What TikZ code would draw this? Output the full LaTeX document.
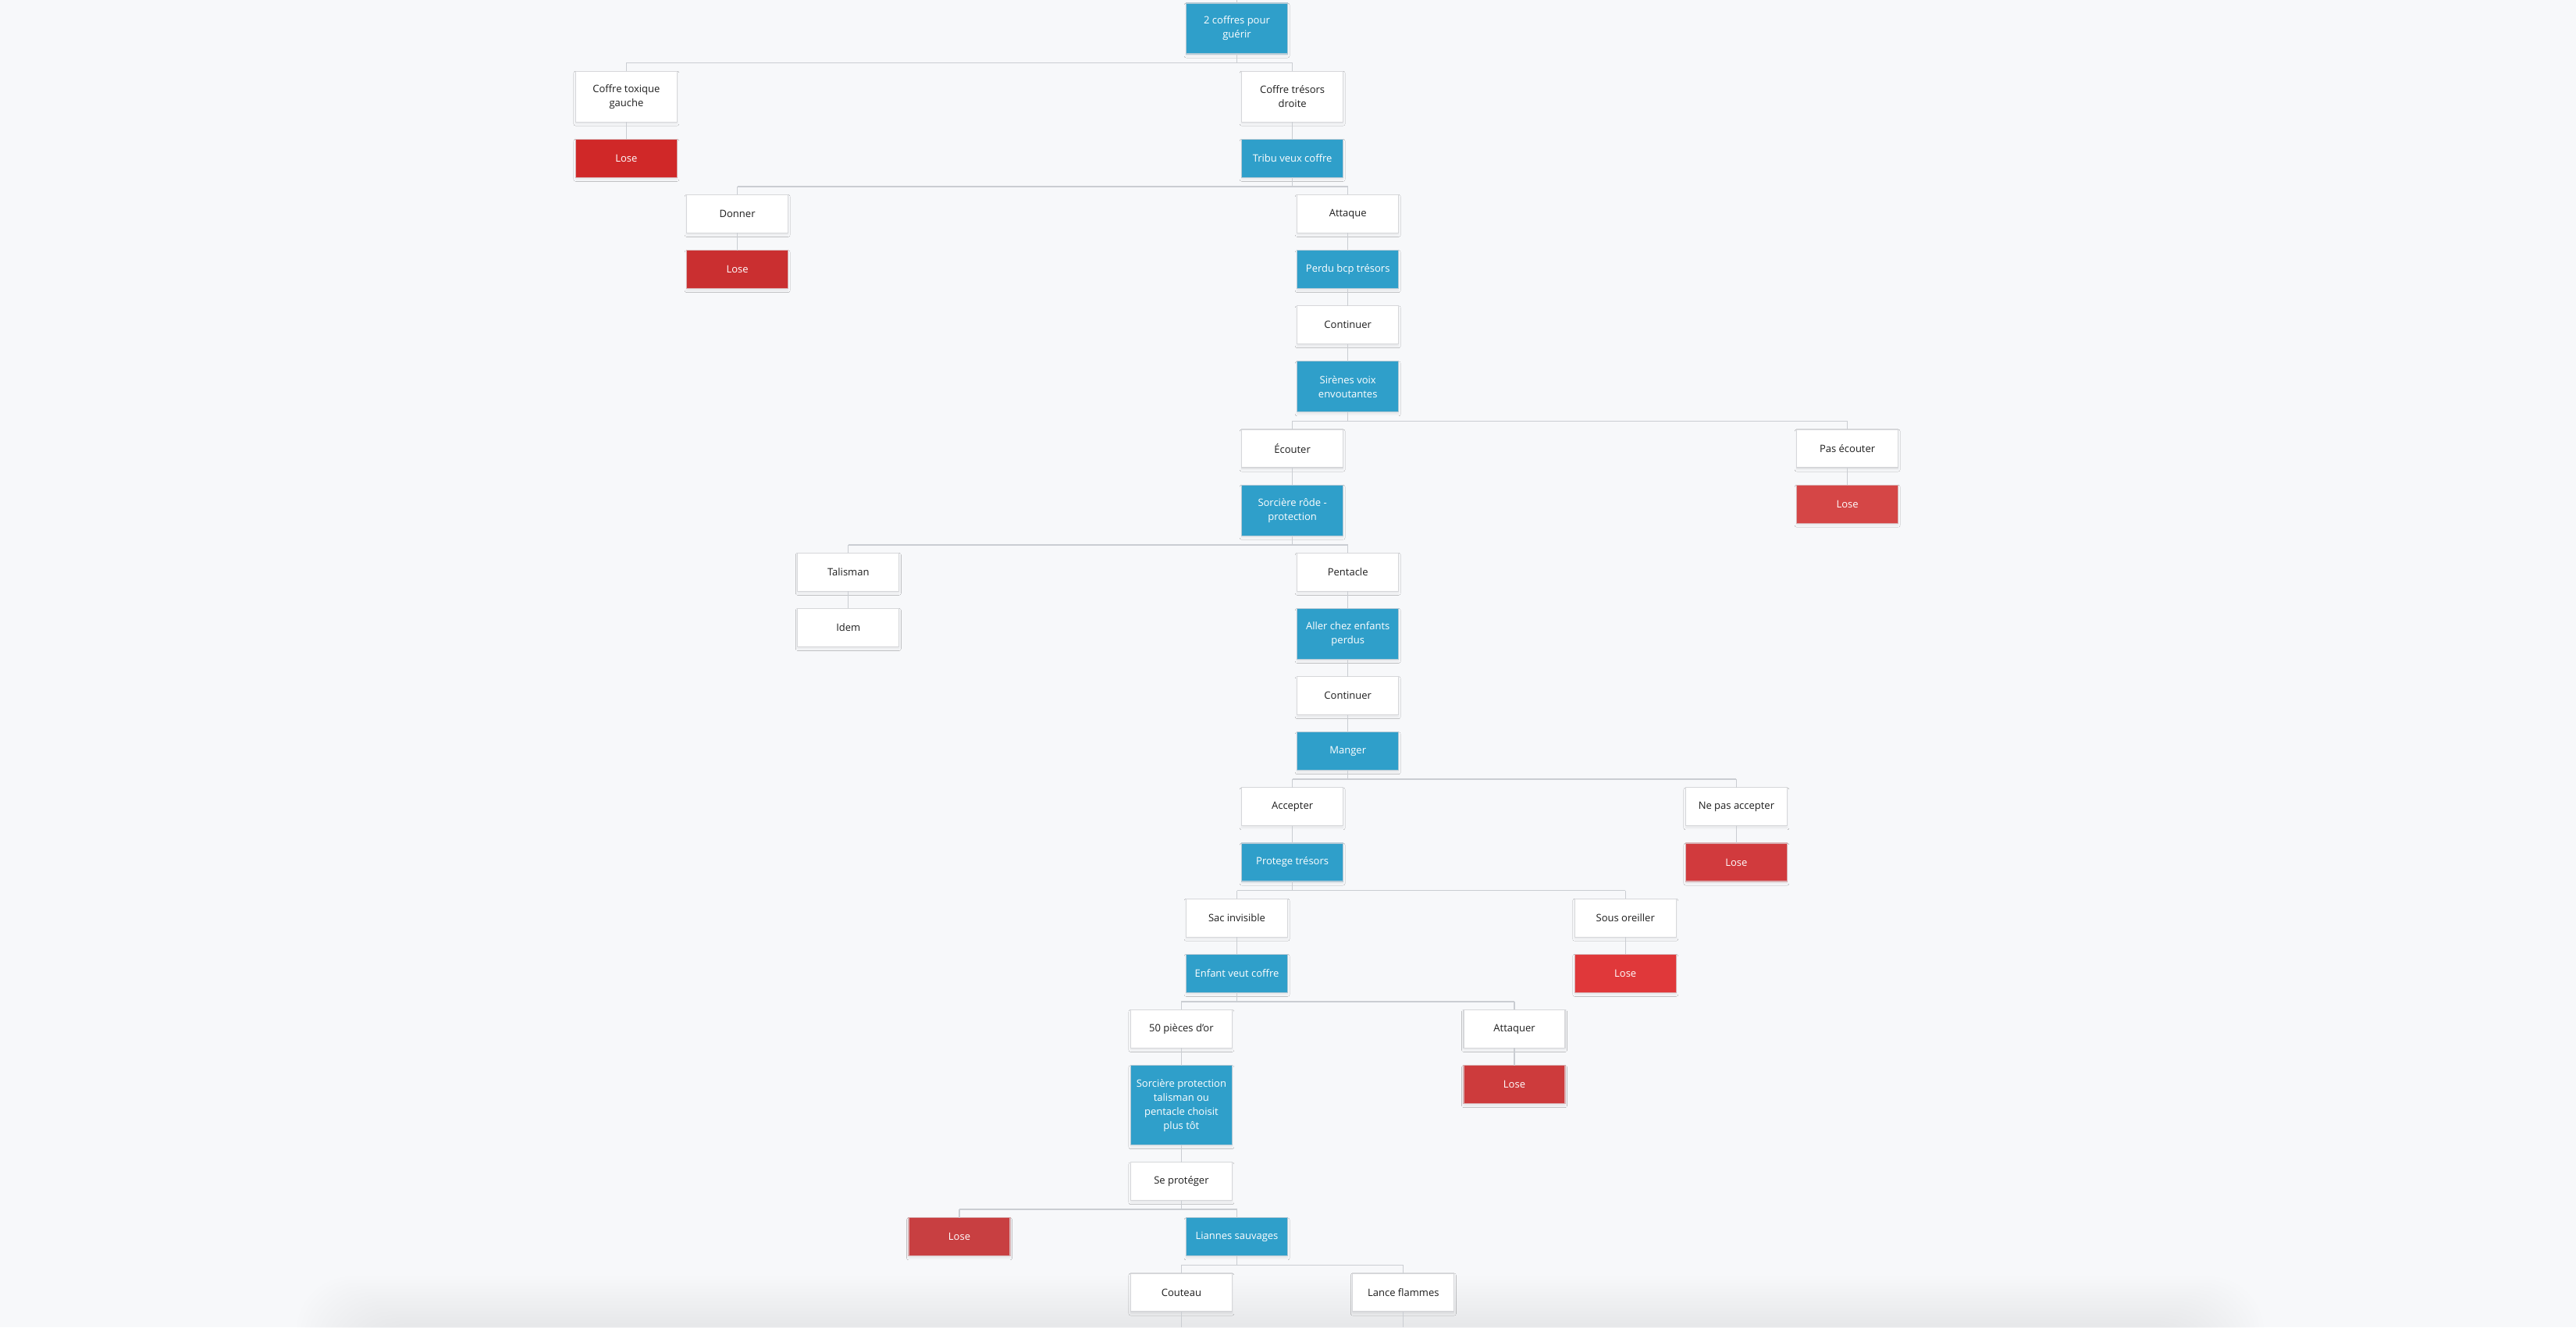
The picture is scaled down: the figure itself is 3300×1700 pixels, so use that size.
\documentclass[tikz,border=0pt]{standalone}
\usepackage{fontspec}
\setmainfont{Open Sans}
\usetikzlibrary{shadows.blur}
\definecolor{bgc}{HTML}{F7F8FA}
\definecolor{bluec}{HTML}{2F9FCA}
\definecolor{blueb}{HTML}{B3C9D5}
\definecolor{whiteb}{HTML}{D6D7DA}
\definecolor{redb}{HTML}{D8AEB0}
\definecolor{txt}{HTML}{1E1E1E}
\definecolor{linec}{HTML}{CACDD2}
\definecolor{shadc}{HTML}{4A5066}
\definecolor{redA}{HTML}{D02828}
\definecolor{redB}{HTML}{CA2F30}
\definecolor{redC}{HTML}{D54646}
\definecolor{redD}{HTML}{D13A3D}
\definecolor{redE}{HTML}{E0383A}
\definecolor{redF}{HTML}{CD3B3C}
\definecolor{redG}{HTML}{C83F41}
\tikzset{
  box/.style={draw, line width=1.1pt, minimum width=130pt, minimum height=49pt,
    inner sep=0pt, outer sep=0pt, align=center, anchor=north,
    font=\fontsize{13}{18}\selectfont,
    blur shadow={shadow xshift=0pt, shadow yshift=-2.5pt, shadow blur radius=2.5pt, shadow opacity=7, shadow blur steps=5}},
  h2/.style={minimum height=65pt},
  h4/.style={minimum height=102pt},
  wbox/.style={box, fill=white, draw=whiteb, text=txt},
  bbox/.style={box, fill=bluec, draw=blueb, text=white},
  rbox/.style={box, fill=#1, draw=redb, text=white},
  conn/.style={draw=linec, line width=1.2pt},
  bus/.style={draw=linec, line width=1.7pt},
}
\newcommand{\lnk}[2]{\draw[conn] (#1.south) -- (#2.north);}
\newcommand{\frk}[3]{\draw[conn] (#1.south) -- ++(0,10.6);
  \draw[conn] (#2.north) -- ++(0,-10.6);
  \draw[conn] (#3.north) -- ++(0,-10.6);
  \draw[bus] ([yshift=10.6pt]#2.north) -- ([yshift=10.6pt]#3.north);}
\begin{document}
\begin{tikzpicture}[x=1pt, y=-1pt]
\useasboundingbox (0,0) rectangle (3300,1700);
\fill[bgc] (0,0) rectangle (3300,1700);
% bottom soft shadow
\begin{scope}
\clip (0,0) rectangle (3300,1700);
\foreach \i in {0,...,15}{
  \fill[shadc, opacity=0.0036, rounded corners=70pt]
    ({380+5*\i},{1635+4*\i}) rectangle ({2900-5*\i},1790);
}
\end{scope}
% column x centres: 1584.5 + 71.1 k
\def\cx#1{\fpeval{1584.5+71.1*(#1)}}
\node[bbox,h2] (root) at (\cx{0},4) {2 coffres pour\\guérir};
\node[wbox,h2] (ct) at (\cx{-11},91.1) {Coffre toxique\\gauche};
\node[wbox,h2] (cd) at (\cx{1},91.1) {Coffre trésors\\droite};
\node[rbox=redA] (l1) at (\cx{-11},178.3) {Lose};
\node[bbox] (tribu) at (\cx{1},178.3) {Tribu veux coffre};
\node[wbox] (donner) at (\cx{-9},249.4) {Donner};
\node[wbox] (attaque) at (\cx{2},249.4) {Attaque};
\node[rbox=redB] (l2) at (\cx{-9},320.6) {Lose};
\node[bbox] (perdu) at (\cx{2},320.6) {Perdu bcp trésors};
\node[wbox] (cont1) at (\cx{2},391.7) {Continuer};
\node[bbox,h2] (sirenes) at (\cx{2},462.9) {Sirènes voix\\envoutantes};
\node[wbox] (ecouter) at (\cx{1},550.0) {Écouter};
\node[wbox] (pasec) at (\cx{11},550.0) {Pas écouter};
\node[bbox,h2] (sorc1) at (\cx{1},621.2) {Sorcière rôde -\\protection};
\node[rbox=redC] (l3) at (\cx{11},621.2) {Lose};
\node[wbox] (talisman) at (\cx{-7},708.3) {Talisman};
\node[wbox] (pentacle) at (\cx{2},708.3) {Pentacle};
\node[wbox] (idem) at (\cx{-7},779.4) {Idem};
\node[bbox,h2] (aller) at (\cx{2},779.4) {Aller chez enfants\\perdus};
\node[wbox] (cont2) at (\cx{2},866.6) {Continuer};
\node[bbox] (manger) at (\cx{2},937.7) {Manger};
\node[wbox] (accepter) at (\cx{1},1008.9) {Accepter};
\node[wbox] (nepas) at (\cx{9},1008.9) {Ne pas accepter};
\node[bbox] (protege) at (\cx{1},1080.0) {Protege trésors};
\node[rbox=redD] (l4) at (\cx{9},1080.0) {Lose};
\node[wbox] (sac) at (\cx{0},1151.2) {Sac invisible};
\node[wbox] (sous) at (\cx{7},1151.2) {Sous oreiller};
\node[bbox] (enfant) at (\cx{0},1222.3) {Enfant veut coffre};
\node[rbox=redE] (l5) at (\cx{7},1222.3) {Lose};
\node[wbox] (pieces) at (\cx{-1},1293.4) {50 pièces d'or};
\node[wbox] (attaquer) at (\cx{5},1293.4) {Attaquer};
\node[bbox,h4] (sorc2) at (\cx{-1},1364.6) {Sorcière protection\\talisman ou\\pentacle choisit\\plus tôt};
\node[rbox=redF] (l6) at (\cx{5},1364.6) {Lose};
\node[wbox] (seprot) at (\cx{-1},1488.7) {Se protéger};
\node[rbox=redG] (l7) at (\cx{-5},1559.9) {Lose};
\node[bbox] (liannes) at (\cx{0},1559.9) {Liannes sauvages};
\node[wbox] (couteau) at (\cx{-1},1631) {Couteau};
\node[wbox] (lance) at (\cx{3},1631) {Lance flammes};
\coordinate (topin) at (\cx{0},0);
\coordinate (cbot) at (\cx{-1},1700);
\coordinate (lbot) at (\cx{3},1700);
% connectors
\draw[conn] (root.north) -- (topin);
\frk{root}{ct}{cd}
\lnk{ct}{l1}
\lnk{cd}{tribu}
\frk{tribu}{donner}{attaque}
\lnk{donner}{l2}
\lnk{attaque}{perdu}
\lnk{perdu}{cont1}
\lnk{cont1}{sirenes}
\frk{sirenes}{ecouter}{pasec}
\lnk{ecouter}{sorc1}
\lnk{pasec}{l3}
\frk{sorc1}{talisman}{pentacle}
\lnk{talisman}{idem}
\lnk{pentacle}{aller}
\lnk{aller}{cont2}
\lnk{cont2}{manger}
\frk{manger}{accepter}{nepas}
\lnk{accepter}{protege}
\lnk{nepas}{l4}
\frk{protege}{sac}{sous}
\lnk{sac}{enfant}
\lnk{sous}{l5}
\frk{enfant}{pieces}{attaquer}
\lnk{pieces}{sorc2}
\lnk{attaquer}{l6}
\lnk{sorc2}{seprot}
\frk{seprot}{l7}{liannes}
\frk{liannes}{couteau}{lance}
\draw[conn] (couteau.south) -- (cbot);
\draw[conn] (lance.south) -- (lbot);
\end{tikzpicture}
\end{document}
